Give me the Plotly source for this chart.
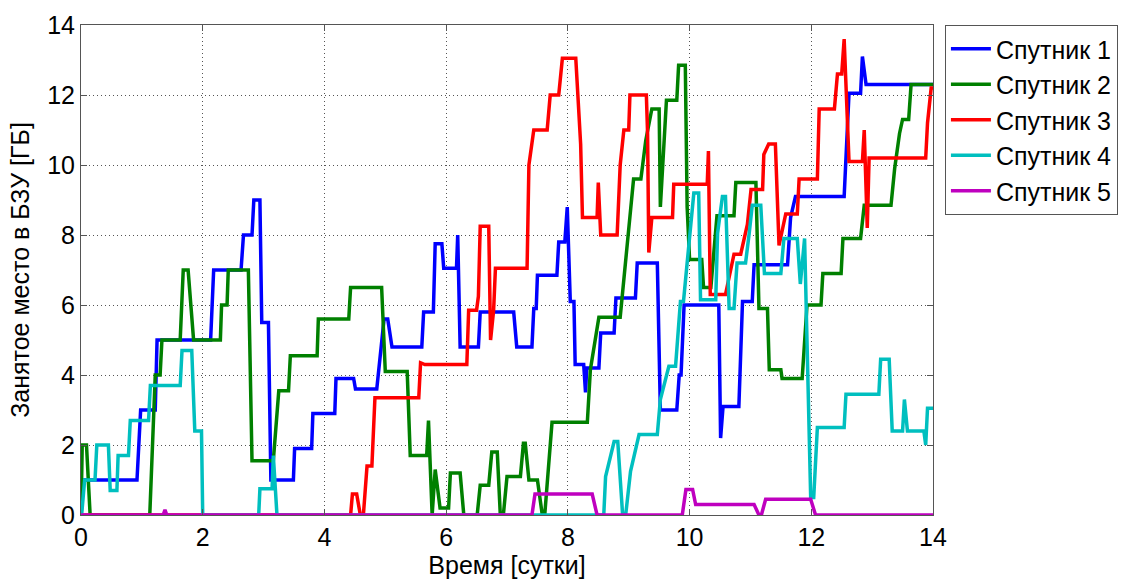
import plotly.graph_objects as go

# Occupied onboard storage per satellite over time (days, GB)
sat1_t = [0, 0.04, 0.92, 0.98, 1.22, 1.25, 2.13, 2.18, 2.63, 2.67, 2.81, 2.84, 2.94, 2.97, 3.08, 3.12,
          3.49, 3.51, 3.79, 3.81, 4.17, 4.19, 4.48, 4.51, 4.86, 4.98, 5.04, 5.11, 5.6, 5.63, 5.79, 5.82,
          5.93, 5.96, 6.17, 6.19, 6.23, 6.53, 6.56, 7.11, 7.16, 7.41, 7.44, 7.48, 7.5, 7.82, 7.85, 7.95,
          7.99, 8.04, 8.1, 8.12, 8.26, 8.29, 8.31, 8.51, 8.54, 8.76, 8.79, 9.11, 9.14, 9.47, 9.52, 9.79,
          9.83, 9.86, 9.91, 10.48, 10.51, 10.55, 10.81, 10.87, 11.03, 11.06, 11.61, 11.66, 11.74, 12.54,
          12.62, 12.81, 12.84, 12.9, 14.0]
sat1_v = [0, 1, 1, 3, 3, 5, 5, 7, 7, 8, 8, 9, 9, 5.5, 5.5, 1,
          1, 1.9, 1.9, 2.9, 2.9, 3.9, 3.9, 3.6, 3.6, 5.6, 5.6, 4.8, 4.8, 5.8, 5.8, 7.75,
          7.75, 7.05, 7.05, 8.0, 4.8, 4.8, 5.8, 5.8, 4.8, 4.8, 5.9, 5.9, 6.85, 6.85, 7.8, 7.8,
          8.8, 6.1, 6.1, 4.3, 4.3, 3.5, 4.2, 4.2, 5.2, 5.2, 6.2, 6.2, 7.2, 7.2, 3.0, 3.0,
          4.0, 4.0, 6.0, 6.0, 2.2, 3.1, 3.1, 6.1, 6.1, 7.15, 7.15, 8.5, 9.1, 9.1,
          12.05, 12.05, 13.1, 12.3, 12.3]

sat2_t = [0, 0.02, 0.09, 0.15, 1.13, 1.22, 1.3, 1.33, 1.63, 1.68, 1.76, 1.85, 2.29, 2.31, 2.4, 2.42,
          2.75, 2.81, 3.16, 3.25, 3.41, 3.44, 3.88, 3.9, 4.4, 4.43, 4.94, 5.0, 5.36, 5.41, 5.68, 5.71,
          5.77, 5.82, 5.9, 6.04, 6.07, 6.23, 6.29, 6.51, 6.56, 6.7, 6.75, 6.84, 6.89, 6.94, 7.0, 7.22,
          7.27, 7.3, 7.36, 7.5, 7.58, 7.62, 7.74, 8.32, 8.37, 8.51, 8.86, 8.97, 9.08, 9.2, 9.28, 9.38,
          9.5, 9.52, 9.62, 9.79, 9.82, 9.93, 9.96, 10.0, 10.2, 10.23, 10.35, 10.45, 10.73, 10.76, 11.09,
          11.14, 11.28, 11.31, 11.5, 11.52, 11.85, 11.93, 12.16, 12.19, 12.49, 12.52, 12.81, 12.87,
          13.31, 13.37, 13.45, 13.5, 13.6, 13.64, 14.0]
sat2_v = [0, 2, 2, 0, 0, 4, 4, 5, 5, 7, 7, 5, 5, 6, 6, 7,
          7, 1.55, 1.55, 3.55, 3.55, 4.55, 4.55, 5.6, 5.6, 6.5, 6.5, 4.1, 4.1, 1.7, 1.7, 2.7,
          0, 1.3, 0.2, 0.2, 1.2, 1.2, 0, 0, 0.85, 0.85, 1.8, 1.8, 0, 0, 1.1, 1.1,
          2.05, 2.05, 1.0, 1.0, 0, 0, 2.65, 2.65, 4.15, 5.65, 5.65, 7.7, 9.6, 9.6, 10.7, 11.6,
          11.6, 8.8, 11.85, 11.85, 12.85, 12.85, 8.8, 7.3, 7.3, 6.5, 6.5, 8.55, 8.55, 9.5, 9.5,
          5.9, 5.9, 4.15, 4.15, 3.9, 3.9, 6.0, 6.0, 6.9, 6.9, 7.9, 7.9, 8.85,
          8.85, 9.9, 10.9, 11.3, 11.3, 12.3, 12.3]

sat3_t = [0, 4.43, 4.46, 4.53, 4.59, 4.64, 4.7, 4.78, 4.83, 5.55, 5.58, 5.65, 6.34, 6.37, 6.5, 6.53,
          6.56, 6.7, 6.73, 6.78, 6.81, 7.33, 7.36, 7.44, 7.66, 7.71, 7.85, 7.91, 8.13, 8.21, 8.24, 8.48,
          8.5, 8.54, 8.81, 8.86, 8.92, 9.0, 9.02, 9.29, 9.31, 9.33, 9.38, 9.72, 9.74, 10.29, 10.31,
          10.34, 10.59, 10.73, 10.84, 10.95, 11.01, 11.2, 11.22, 11.3, 11.41, 11.47, 11.58, 11.77, 11.8,
          12.1, 12.13, 12.38, 12.43, 12.5, 12.54, 12.62, 12.84, 12.87, 12.92, 12.95, 13.88, 13.91,
          13.97, 14.0]
sat3_v = [0, 0, 0.6, 0.6, 0, 0, 1.4, 1.4, 3.35, 3.35, 4.35, 4.3, 4.3, 5.85, 5.85, 6.25,
          8.25, 8.25, 5.0, 5.85, 7.05, 7.05, 10.0, 11.0, 11.0, 12.0, 12.0, 13.05, 13.05, 10.6, 8.5, 8.5,
          9.5, 8.0, 8.0, 10.0, 11.0, 11.0, 12.0, 12.0, 10.9, 7.5, 8.5, 8.5, 9.45, 9.45, 10.4,
          6.3, 6.3, 7.45, 7.45, 8.3, 9.3, 9.3, 10.3, 10.6, 10.6, 7.7, 8.6, 8.6, 9.6,
          9.6, 11.6, 11.6, 12.6, 12.6, 13.6, 10.1, 10.1, 11.0, 8.2, 10.2, 10.2, 11.2,
          12.2, 12.2]

sat4_t = [0, 0.01, 0.06, 0.23, 0.26, 0.45, 0.48, 0.59, 0.61, 0.78, 0.81, 1.11, 1.14, 1.63, 1.66, 1.82,
          1.87, 1.98, 2.0, 2.92, 2.94, 3.14, 3.16, 3.22, 8.59, 8.62, 8.76, 8.82, 8.9, 8.95, 9.03, 9.17,
          9.47, 9.52, 9.66, 9.77, 9.85, 9.9, 9.96, 10.07, 10.15, 10.18, 10.43, 10.46, 10.54, 10.59,
          10.65, 10.73, 10.78, 10.92, 10.98, 11.03, 11.17, 11.23, 11.5, 11.55, 11.77, 11.82, 11.89,
          11.99, 12.04, 12.1, 12.54, 12.57, 13.11, 13.14, 13.28, 13.33, 13.5, 13.53, 13.58, 13.85,
          13.88, 13.91, 14.0]
sat4_v = [0, 0, 1.0, 1.0, 2.0, 2.0, 0.7, 0.7, 1.7, 1.7, 2.7, 2.7, 3.7, 3.7, 4.7, 4.7,
          2.4, 2.4, 0, 0, 0.75, 0.75, 1.7, 0, 0, 1.1, 2.1, 2.1, 0, 0, 1.25, 2.3,
          2.3, 3.3, 4.25, 4.25, 6.1, 6.1, 7.2, 9.2, 9.2, 6.15, 6.15, 8.05, 9.1, 9.1,
          5.9, 5.9, 7.2, 7.2, 8.05, 8.85, 8.85, 6.9, 6.9, 7.9, 7.9, 6.6, 7.9,
          0.5, 0.5, 2.5, 2.5, 3.45, 3.45, 4.45, 4.45, 2.4, 2.4, 3.3, 2.4, 2.4,
          2.0, 3.05, 3.05]

sat5_t = [0, 1.35, 1.38, 1.41, 7.41, 7.46, 8.4, 8.48, 9.88, 9.94, 10.05, 10.1, 11.06, 11.14, 11.18,
          11.25, 11.99, 12.07, 14.0]
sat5_v = [0, 0, 0.15, 0, 0, 0.6, 0.6, 0, 0, 0.73, 0.73, 0.3, 0.3, 0, 0,
          0.45, 0.45, 0, 0]

names = ["Спутник 1", "Спутник 2", "Спутник 3", "Спутник 4", "Спутник 5"]
colors = ["rgb(0,0,255)", "rgb(0,128,0)", "rgb(255,0,0)", "rgb(0,191,191)", "rgb(191,0,191)"]
series = [(sat1_t, sat1_v), (sat2_t, sat2_v), (sat3_t, sat3_v), (sat4_t, sat4_v), (sat5_t, sat5_v)]

x_ticks = [0, 2, 4, 6, 8, 10, 12, 14]
y_ticks = [0, 2, 4, 6, 8, 10, 12, 14]

FONT = "Liberation Sans, Arial, sans-serif"

fig = go.Figure()
for i, ((t, v), name, color) in enumerate(zip(series, names, colors)):
    fig.add_trace(go.Scatter(
        x=t, y=v, mode="lines", name=name,
        legendgroup=f"g{i}",
        line=dict(color=color, width=3.5),
    ))

axis_common = dict(
    showline=True, linecolor="#555", linewidth=1, mirror="ticks",
    ticks="inside", ticklen=6, tickcolor="#555",
    showgrid=True, gridcolor="#555", griddash="1px,3px", gridwidth=1,
    zeroline=False, automargin=False,
    tickfont=dict(family=FONT, size=25, color="black"),
)

fig.update_layout(
    width=1131, height=579,
    margin=dict(l=81, r=198, t=25, b=64, autoexpand=False),
    paper_bgcolor="white", plot_bgcolor="white",
    font=dict(family=FONT, color="black"),
    showlegend=True,
    legend=dict(
        x=1.014, xanchor="left", y=1.0, yanchor="top",
        bordercolor="#555", borderwidth=1,
        font=dict(family=FONT, size=25, color="black"),
        tracegroupgap=0,
        itemwidth=40,
    ),
    xaxis=dict(range=[0, 14], tickvals=x_ticks, ticktext=[str(v) for v in x_ticks],
               title=dict(text="Время [сутки]", font=dict(family=FONT, size=25), standoff=4),
               **axis_common),
    yaxis=dict(range=[0, 14], tickvals=y_ticks, ticktext=[str(v) for v in y_ticks],
               title=dict(text="Занятое место в БЗУ [ГБ]", font=dict(family=FONT, size=25), standoff=10),
               **axis_common),
)

fig.write_html("out.html")
